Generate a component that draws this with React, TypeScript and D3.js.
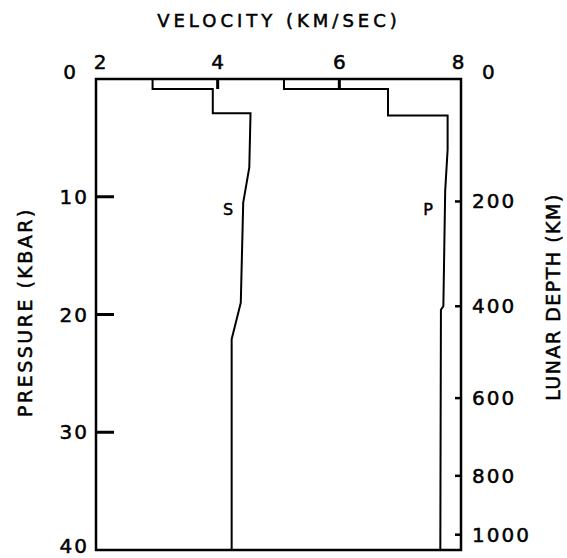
import React from 'react';
import * as d3 from 'd3';

// pressure (kbar) / velocity (km/sec) pairs
const sPressure = [0, 0.85, 0.85, 2.9, 2.9, 7.5, 10.5, 19.0, 22.1, 40];
const sVelocity = [2.93, 2.93, 3.92, 3.92, 4.54, 4.52, 4.42, 4.38, 4.23, 4.23];
const pPressure = [0, 0.85, 0.85, 3.1, 3.1, 6.0, 9.5, 19.3, 19.6, 40];
const pVelocity = [5.09, 5.09, 6.8, 6.8, 7.78, 7.78, 7.74, 7.71, 7.67, 7.66];

const velocityTicks = [2, 4, 6, 8];
const pressureTicks = [0, 10, 20, 30, 40];
const depthTicks = [0, 200, 400, 600, 800, 1000];
const depthPressure = [0, 10.4, 19.3, 27.1, 33.7, 38.7]; // kbar at each depth tick

const W = 567;
const H = 558;
const font = 'DejaVu Sans, sans-serif';
// thicken the lettering a little, like the hand-lettered original
const ink = { fill: '#000', stroke: '#000', strokeWidth: 0.5 };

export default function App() {
  const x = d3.scaleLinear().domain([2, 8]).range([96, 461]);
  const y = d3.scaleLinear().domain([0, 40]).range([79, 550]);
  const depthToP = d3.scaleLinear().domain(depthTicks).range(depthPressure);

  const line = d3
    .line<[number, number]>()
    .x(d => x(d[1]))
    .y(d => y(d[0]));

  const sPath = line(sPressure.map((p, i) => [p, sVelocity[i]] as [number, number])) || '';
  const pPath = line(pPressure.map((p, i) => [p, pVelocity[i]] as [number, number])) || '';

  return (
    <svg
      width={W}
      height={H}
      style={{ position: 'absolute', left: 0, top: 0, background: '#fff' }}
      fontFamily={font}
    >
      <rect width={W} height={H} fill="#fff" />
      {/* title */}
      <text x={279} y={27} textAnchor="middle" fontSize={18} letterSpacing={4} {...ink}>
        VELOCITY  (KM/SEC)
      </text>

      {/* top ticks + labels */}
      {velocityTicks.map(v => (
        <g key={'v' + v}>
          {v !== 2 && v !== 8 && (
            <line x1={x(v)} x2={x(v)} y1={y(0)} y2={y(0) + 10} stroke="#000" strokeWidth={3} />
          )}
          <text
            x={x(v) + (v === 2 ? 4 : v === 8 ? -3 : 0)}
            y={69}
            textAnchor="middle"
            fontSize={20}
            {...ink}
          >
            {v}
          </text>
        </g>
      ))}

      {/* left ticks + labels */}
      {pressureTicks.map(p => (
        <g key={'p' + p}>
          {p !== 0 && p !== 40 && (
            <line x1={x(2)} x2={x(2) + 18} y1={y(p)} y2={y(p)} stroke="#000" strokeWidth={3} />
          )}
          <text
            x={p === 0 ? 78 : 89}
            y={y(p) + (p === 0 ? -7 : p === 40 ? -4 : 0)}
            textAnchor="end"
            dominantBaseline="central"
            fontSize={20}
            letterSpacing={2}
            {...ink}
          >
            {p}
          </text>
        </g>
      ))}

      {/* right ticks + labels */}
      {depthTicks.map(d => (
        <g key={'d' + d}>
          {d !== 0 && (
            <line
              x1={x(8) - 6}
              x2={x(8)}
              y1={y(depthToP(d))}
              y2={y(depthToP(d))}
              stroke="#000"
              strokeWidth={2.5}
            />
          )}
          <text
            x={d === 0 ? 482 : 472}
            y={y(depthToP(d)) + (d === 0 ? -7 : 0)}
            dominantBaseline="central"
            fontSize={20}
            letterSpacing={2}
            {...ink}
          >
            {d}
          </text>
        </g>
      ))}

      {/* frame */}
      <rect
        x={x(2)}
        y={y(0)}
        width={x(8) - x(2)}
        height={y(40) - y(0)}
        fill="none"
        stroke="#000"
        strokeWidth={2.5}
      />

      {/* profiles */}
      <path d={sPath} fill="none" stroke="#000" strokeWidth={2} />
      <path d={pPath} fill="none" stroke="#000" strokeWidth={2} />
      <text x={228} y={209} textAnchor="middle" dominantBaseline="central" fontSize={16} {...ink}>
        S
      </text>
      <text x={428} y={209} textAnchor="middle" dominantBaseline="central" fontSize={16} {...ink}>
        P
      </text>

      {/* axis titles */}
      <text
        transform={`translate(25,312) rotate(-90)`}
        textAnchor="middle"
        dominantBaseline="central"
        fontSize={19}
        letterSpacing={2.5}
        {...ink}
      >
        PRESSURE  (KBAR)
      </text>
      <text
        transform={`translate(553,297) rotate(-90)`}
        textAnchor="middle"
        dominantBaseline="central"
        fontSize={19}
        letterSpacing={1.5}
        {...ink}
      >
        LUNAR  DEPTH  (KM)
      </text>
    </svg>
  );
}
